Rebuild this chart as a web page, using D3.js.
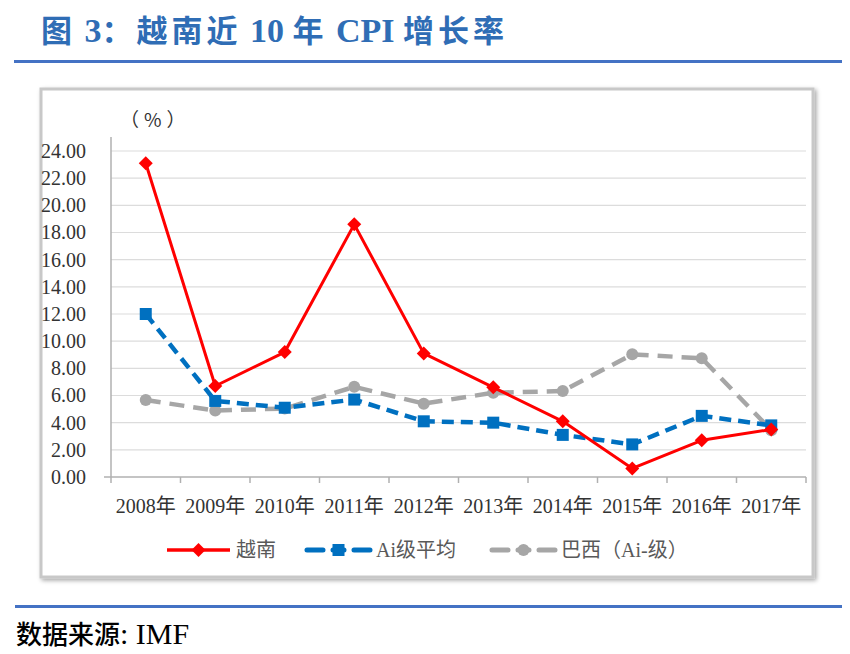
<!DOCTYPE html>
<html>
<head>
<meta charset="utf-8">
<script src="https://cdn.jsdelivr.net/npm/d3@7"></script>
<style>
  body { margin: 0; background: #fff; }
  svg text { font-family: "Liberation Serif", "Noto Sans CJK SC", serif; }
  .cjk { font-family: "Noto Sans CJK SC", sans-serif; }
</style>
</head>
<body>
<div id="chart"></div>
<script>
// categories and series (CPI growth, %)
var years = ["2008年", "2009年", "2010年", "2011年", "2012年", "2013年", "2014年", "2015年", "2016年", "2017年"]
var vietnam = [23.1, 6.7, 9.2, 18.6, 9.1, 6.6, 4.1, 0.63, 2.7, 3.5]
var aiAvg = [12.0, 5.6, 5.1, 5.7, 4.1, 4.0, 3.1, 2.4, 4.5, 3.8]
var brazil = [5.67, 4.89, 5.04, 6.64, 5.40, 6.20, 6.33, 9.03, 8.74, 3.45]
var yTicks = [0, 2, 4, 6, 8, 10, 12, 14, 16, 18, 20, 22, 24]

var width = 850
var height = 654

var svg = d3.select("#chart")
  .append("svg")
    .attr("width", width)
    .attr("height", height)

var defs = svg.append("defs")
var shadow = defs.append("filter").attr("id", "shadow")
  .attr("x", "-5%").attr("y", "-5%").attr("width", "110%").attr("height", "110%")
shadow.append("feDropShadow")
  .attr("dx", 2).attr("dy", 2).attr("stdDeviation", 2)
  .attr("flood-color", "#000").attr("flood-opacity", 0.35)

// title: cjk parts in sans bold, latin parts in serif bold
var titleParts = [["图", 1], [" 3", 0], ["：越南近", 1], [" 10 ", 0], ["年", 1], [" CPI ", 0], ["增长率", 1]]
var title = svg.append("text")
  .attr("x", 41)
  .attr("y", 42)
  .style("font-weight", "bold")
  .style("font-size", "30px")
  .style("fill", "#2f6db5")
  .attr("xml:space", "preserve")
title.selectAll("tspan")
  .data(titleParts)
  .enter().append("tspan")
    .attr("class", d => d[1] ? "cjk" : null)
    .style("letter-spacing", d => d[1] ? "4px" : "0px")
    .style("font-size", d => d[1] ? "31px" : "34px")
    .text(d => d[0])

svg.append("rect")
  .attr("x", 14).attr("y", 60).attr("width", 828).attr("height", 3)
  .attr("fill", "#4472c4")

svg.append("rect")
  .attr("x", 15).attr("y", 605).attr("width", 827).attr("height", 3)
  .attr("fill", "#4472c4")

var source = svg.append("text")
  .attr("x", 16)
  .attr("y", 644)
  .style("font-size", "30px")
  .style("fill", "#000")
source.append("tspan").attr("class", "cjk").style("font-size", "26px").style("font-weight", "500").text("数据来源")
source.append("tspan").text(": IMF")

// chart frame
svg.append("rect")
  .attr("x", 41).attr("y", 89).attr("width", 772).attr("height", 488)
  .attr("fill", "#fff")
  .attr("stroke", "#c8c8c8")
  .attr("stroke-width", 3)
  .attr("filter", "url(#shadow)")

var x = d3.scaleBand()
  .domain(years)
  .range([111, 806])

var y = d3.scaleLinear()
  .domain([0, 24])
  .range([477, 151])

// gridlines
svg.append("g")
  .selectAll("line")
  .data(yTicks.filter(d => d > 0))
  .enter().append("line")
    .attr("x1", 111).attr("x2", 806)
    .attr("y1", d => y(d)).attr("y2", d => y(d))
    .attr("stroke", "#dcdcdc")
    .attr("stroke-width", 1.2)

// y axis
var yAxis = svg.append("g")
  .attr("transform", "translate(111,0)")
  .call(d3.axisLeft(y).tickValues(yTicks).tickFormat(d3.format(".2f")).tickSize(0).tickPadding(25))
yAxis.select(".domain").remove()
yAxis.selectAll("text")
  .style("font-size", "20px")
  .style("fill", "#333")

svg.append("line")
  .attr("x1", 111).attr("x2", 111)
  .attr("y1", 137).attr("y2", 477)
  .attr("stroke", "#b0b0b0").attr("stroke-width", 1.5)

// x axis
svg.append("line")
  .attr("x1", 104).attr("x2", 806)
  .attr("y1", 477).attr("y2", 477)
  .attr("stroke", "#b0b0b0").attr("stroke-width", 1.5)

svg.append("g")
  .selectAll("line")
  .data(years.concat(["end"]))
  .enter().append("line")
    .attr("x1", (d, i) => i < years.length ? x(d) : x.range()[1])
    .attr("x2", (d, i) => i < years.length ? x(d) : x.range()[1])
    .attr("y1", 477).attr("y2", 483)
    .attr("stroke", "#b0b0b0").attr("stroke-width", 1.5)

svg.append("g")
  .selectAll("text")
  .data(years)
  .enter().append("text")
    .attr("x", d => x(d) + x.bandwidth() / 2)
    .attr("y", 513)
    .attr("text-anchor", "middle")
    .style("font-size", "20px")
    .style("fill", "#333")
    .text(d => d)

svg.append("text")
  .attr("x", 120)
  .attr("y", 127)
  .attr("class", "cjk")
  .style("font-size", "19px")
  .style("letter-spacing", "5px")
  .style("fill", "#333")
  .text("（%）")

// series
var cx = (d, i) => x(years[i]) + x.bandwidth() / 2
var line = d3.line()
  .x(cx)
  .y(d => y(d))

var series = [
  { name: "越南", values: vietnam, color: "#ff0000", width: 3, dash: null, marker: "diamond" },
  { name: "Ai级平均", values: aiAvg, color: "#0070c0", width: 4.5, dash: "12,7", marker: "square" },
  { name: "巴西（Ai-级）", values: brazil, color: "#a6a6a6", width: 4.5, dash: "15,9", marker: "circle" }
]

function drawMarker(g, type, color) {
  if (type == "diamond") {
    g.append("path").attr("d", "M0,-7L7,0L0,7L-7,0Z").attr("fill", color)
  } else if (type == "square") {
    g.append("rect").attr("x", -6).attr("y", -6).attr("width", 12).attr("height", 12).attr("fill", color)
  } else {
    g.append("circle").attr("r", 6).attr("fill", color)
  }
}

// draw gray first, then blue, then red on top
series.slice().reverse().forEach(function(s) {
  svg.append("path")
    .attr("d", line(s.values))
    .attr("fill", "none")
    .attr("stroke", s.color)
    .attr("stroke-width", s.width)
    .attr("stroke-dasharray", s.dash)
    .attr("stroke-linejoin", "round")

  s.values.forEach(function(v, i) {
    var g = svg.append("g").attr("transform", "translate(" + cx(v, i) + "," + y(v) + ")")
    drawMarker(g, s.marker, s.color)
  })
})

// legend
var legendX = [167, 307, 492]
series.forEach(function(s, i) {
  var lx = legendX[i]
  var lg = svg.append("g").attr("transform", "translate(" + lx + ",550)")
  lg.append("line")
    .attr("x1", 0).attr("x2", 63)
    .attr("y1", 0).attr("y2", 0)
    .attr("stroke", s.color)
    .attr("stroke-width", s.dash ? 5 : 3.5)
    .attr("stroke-linecap", s.dash ? "round" : null)
    .attr("stroke-dasharray", s.dash ? "16,10,11,10,16" : null)
  var m = lg.append("g").attr("transform", "translate(31.5,0)")
  drawMarker(m, s.marker, s.color)
  lg.append("text")
    .attr("x", 69)
    .attr("y", 7)
    .style("font-size", "20px")
    .style("fill", "#595959")
    .text(s.name)
})
</script>
</body>
</html>
